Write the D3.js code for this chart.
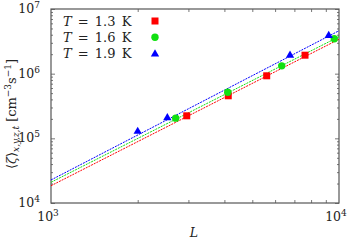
<!DOCTYPE html>
<html>
<head>
<meta charset="utf-8">
<script src="https://cdn.jsdelivr.net/npm/d3@7"></script>
<style>
  body { margin: 0; background: #fff; }
  svg text { font-family: "DejaVu Serif", "Liberation Serif", serif; fill: #222; }
</style>
</head>
<body>
<div id="chart"></div>
<script>
// data
var seriesNames = ["T = 1.3 K", "T = 1.6 K", "T = 1.9 K"];
var tempLabels = ["1.3", "1.6", "1.9"];
var colors = ["#ff0000", "#11e011", "#0000ff"];
var shapes = ["square", "circle", "triangle"];

var L_13 = [2960, 4125, 5610, 7620];
var rate_13 = [2.23e5, 4.55e5, 9.27e5, 1.93e6];
var L_16 = [2710, 4108, 6325, 9630];
var rate_16 = [2.05e5, 5.15e5, 1.32e6, 3.46e6];
var L_19 = [2000, 2535, 6760, 9210];
var rate_19 = [1.30e5, 2.11e5, 1.96e6, 3.96e6];

// dashed fit lines, endpoints read at L = 1e3 and 1e4
var fit_13 = [[1000, 1.85e4], [10000, 3.40e6]];
var fit_16 = [[1000, 2.09e4], [10000, 3.73e6]];
var fit_19 = [[1000, 2.27e4], [10000, 4.61e6]];

var xTicks = [1000, 10000];
var yTicks = [1e4, 1e5, 1e6, 1e7];

var margin = {top: 9, right: 10, bottom: 40, left: 51},
    width = 349 - margin.left - margin.right,
    height = 243 - margin.top - margin.bottom;

var x_scale = d3.scaleLog().domain([1000, 10000]).range([0, width]);
var y_scale = d3.scaleLog().domain([1e4, 1e7]).range([height, 0]);

var svg = d3.select("#chart").append("svg")
    .attr("width", 349)
    .attr("height", 243);

var g = svg.append("g")
    .attr("transform", "translate(" + margin.left + "," + margin.top + ")");

g.append("clipPath").attr("id", "clip")
  .append("rect").attr("width", width).attr("height", height);

// minor ticks
function minors(lo, hi) {
  var out = [];
  for (var d = lo; d < hi; d *= 10) {
    for (var k = 2; k < 10; k++) out.push(d * k);
  }
  return out;
}
var xMinor = minors(1000, 10000);
var yMinor = minors(1e4, 1e7);

var tickColor = "#555";

function addAxis(axis, transform) {
  var a = g.append("g").attr("transform", transform).call(axis);
  a.select(".domain").remove();
  a.selectAll("line").attr("stroke", tickColor).attr("stroke-width", 0.8);
  a.selectAll("text").remove();
}

// x ticks bottom / top (inward)
addAxis(d3.axisBottom(x_scale).tickValues(xMinor).tickSize(-3).tickFormat(""), "translate(0," + height + ")");
addAxis(d3.axisTop(x_scale).tickValues(xMinor).tickSize(-3).tickFormat(""), "translate(0,0)");
// y ticks left / right
addAxis(d3.axisLeft(y_scale).tickValues(yMinor).tickSize(-2).tickFormat(""), "translate(0,0)");
addAxis(d3.axisRight(y_scale).tickValues(yMinor).tickSize(-2).tickFormat(""), "translate(" + width + ",0)");
addAxis(d3.axisLeft(y_scale).tickValues(yTicks).tickSize(-4).tickFormat(""), "translate(0,0)");
addAxis(d3.axisRight(y_scale).tickValues(yTicks).tickSize(-4).tickFormat(""), "translate(" + width + ",0)");

// frame
g.append("rect")
    .attr("width", width).attr("height", height)
    .attr("fill", "none").attr("stroke", tickColor).attr("stroke-width", 1.2);

// tick labels
function powLabel(sel, exp) {
  sel.append("tspan").text("10");
  sel.append("tspan").attr("dy", -5).attr("font-size", 9).text(exp);
}
yTicks.forEach(function(v) {
  var t = g.append("text")
      .attr("x", -11).attr("y", y_scale(v) + 4)
      .attr("text-anchor", "end").attr("font-size", 12.5);
  powLabel(t, Math.round(Math.log10(v)));
});
xTicks.forEach(function(v) {
  var t = g.append("text")
      .attr("x", x_scale(v) - 3).attr("y", height + 18)
      .attr("text-anchor", "middle").attr("font-size", 12.5);
  powLabel(t, Math.round(Math.log10(v)));
});

// axis titles
g.append("text")
    .attr("x", width / 2 - 1).attr("y", height + 34)
    .attr("text-anchor", "middle").attr("font-size", 12.5)
    .attr("font-style", "italic").text("L");

var yl = svg.append("text")
    .attr("transform", "translate(16," + 114 + ") rotate(-90)")
    .attr("text-anchor", "middle").attr("font-size", 13);
yl.append("tspan").text("\u27E8");
yl.append("tspan").attr("font-style", "italic").text("\u03B6");
yl.append("tspan").text("\u27E9");
yl.append("tspan").attr("font-style", "italic").attr("font-size", 9).attr("dy", 3).text("x,y,z,t");
yl.append("tspan").attr("dy", -3).text("  [cm");
yl.append("tspan").attr("font-size", 9).attr("dy", -5).text("\u22123");
yl.append("tspan").attr("dy", 5).text("s");
yl.append("tspan").attr("font-size", 9).attr("dy", -5).text("\u22121");
yl.append("tspan").attr("dy", 5).text("]");

// fit lines
var line = d3.line()
    .x(function(d) { return x_scale(d[0]); })
    .y(function(d) { return y_scale(d[1]); });

var fits = [fit_13, fit_16, fit_19];
var plot = g.append("g").attr("clip-path", "url(#clip)");
fits.forEach(function(f, i) {
  plot.append("path")
      .datum(f)
      .attr("fill", "none")
      .attr("stroke", colors[i])
      .attr("stroke-width", 1)
      .attr("stroke-dasharray", "2,1")
      .attr("d", line);
});

// markers
function marker(sel, shape, color, cx, cy) {
  if (shape === "square") {
    sel.append("rect").attr("x", cx - 3.5).attr("y", cy - 3.5)
        .attr("width", 7).attr("height", 7).attr("fill", color);
  } else if (shape === "circle") {
    sel.append("circle").attr("cx", cx).attr("cy", cy).attr("r", 3.7).attr("fill", color);
  } else {
    sel.append("path")
        .attr("d", d3.symbol().type(d3.symbolTriangle).size(30)())
        .attr("transform", "translate(" + cx + "," + (cy + 0.5) + ")")
        .attr("fill", color);
  }
}

var xs = [L_13, L_16, L_19];
var ys = [rate_13, rate_16, rate_19];
xs.forEach(function(arr, i) {
  arr.forEach(function(L, j) {
    marker(plot, shapes[i], colors[i], x_scale(L), y_scale(ys[i][j]));
  });
});

// legend
seriesNames.forEach(function(name, i) {
  var yy = 12 + i * 16.3;
  var t = g.append("text")
      .attr("x", 12).attr("y", yy + 4.5).attr("font-size", 13)
      .attr("word-spacing", 2);
  t.append("tspan").attr("font-style", "italic").text("T");
  t.append("tspan").text(" = " + tempLabels[i] + " K");
  marker(g, shapes[i], colors[i], 104, yy);
});
</script>
</body>
</html>
